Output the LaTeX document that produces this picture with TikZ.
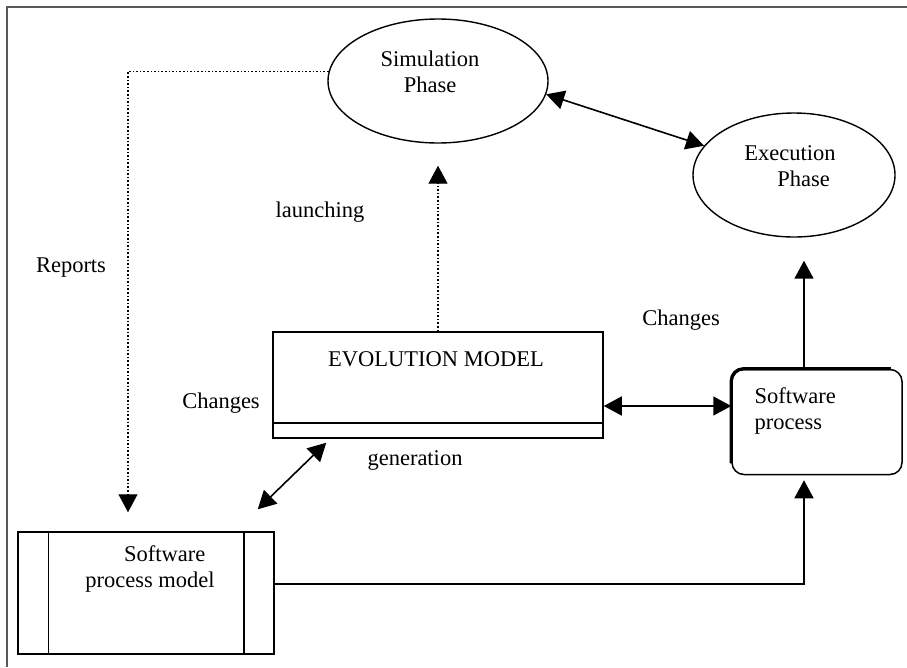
\documentclass[tikz,border=0pt]{standalone}
\usepackage{fontspec}
\setmainfont{Liberation Serif}
\usetikzlibrary{arrows.meta,shapes.geometric}

\begin{document}
\begin{tikzpicture}[x=1pt,y=-1pt,
    phase/.style={draw, ellipse, line width=1.4pt, minimum width=#1, minimum height=124pt},
    box/.style={draw, rectangle, line width=1.5pt, inner sep=0pt},
    txt/.style={align=center, font=\fontsize{22.5}{26}\selectfont},
    arr/.style={line width=1.6pt, -{Triangle[length=18pt,width=19pt]}},
    dbl/.style={line width=1.6pt, {Triangle[length=18pt,width=19pt]}-{Triangle[length=18pt,width=19pt]}}]
    \useasboundingbox (0,0) rectangle (907,667);
    \draw[line width=1.5pt, black!65] (7,667) -- (7,7) -- (907,7);

    % the two phases
    \node[phase=220pt] (sim) at (438,81) {};
    \node[txt] (simtxt) at (430,72) {Simulation\\Phase};
    \node[phase=202pt] (exe) at (794,175) {};
    \node[txt] (exetxt) at (790,166) {Execution\\\hspace{1.2em}Phase};

    % boxes
    \node[box, minimum width=330pt, minimum height=106pt] (evo) at (438,385) {};
    \node[txt] (evotxt) at (436,359) {EVOLUTION MODEL};
    \draw[line width=1.5pt] ([yshift=16pt]evo.south west) -- ([yshift=16pt]evo.south east);

    \node[box, minimum width=256pt, minimum height=122pt] (spm) at (146,593) {};
    \node[txt] (spmtxt) at (150,569) {\hspace{1.3em}Software\\process model};
    \draw[line width=1.5pt] ([xshift=31pt]spm.north west) -- ([xshift=31pt]spm.south west);
    \draw[line width=1.5pt] ([xshift=-31pt]spm.north east) -- ([xshift=-31pt]spm.south east);

    \node[box, rounded corners=12pt, minimum width=170pt, minimum height=105pt] (sp) at (817,422) {};
    \draw[line width=3.2pt, rounded corners=12pt] ([yshift=12pt]sp.south west) -- (sp.north west) -- ([xshift=-12pt]sp.north east);
    \node[txt, align=left, anchor=north west] (sptxt) at (751,384) {Software\\process};

    % connectors
    \draw[dbl] (sim.-7) -- (exe.162);
    \draw[arr, dotted, line width=1.1pt] (evo.north) -- ([yshift=-22pt]sim.south);
    \draw[arr, dotted, line width=1.1pt] (sim.175) -| ([xshift=-18pt,yshift=19pt]spm.north);
    \draw[dbl] ([yshift=-21pt]evo.east) -- ([yshift=-21pt]evo.east -| sp.west);
    \draw[dbl] ([xshift=-17pt,yshift=22pt]spm.north east) -- ([xshift=54pt,yshift=-4pt]evo.south west);
    \draw[arr] ([yshift=9pt]spm.east) -| ([xshift=-13pt,yshift=-5pt]sp.south);
    \coordinate (exetip) at ([yshift=-23pt]exe.south);
    \coordinate (spup) at ([xshift=-13pt]sp.north);
    \draw[arr] (spup) -- (spup |- exetip);

    % free labels
    \foreach \x/\y/\t/\n in {71/268/Reports/rep, 320/212/launching/lau, 221/403/Changes/chl,
                              681/320/Changes/chr, 415/460/generation/gen}
        \node[txt] (\n) at (\x,\y) {\t};
\end{tikzpicture}
\end{document}
